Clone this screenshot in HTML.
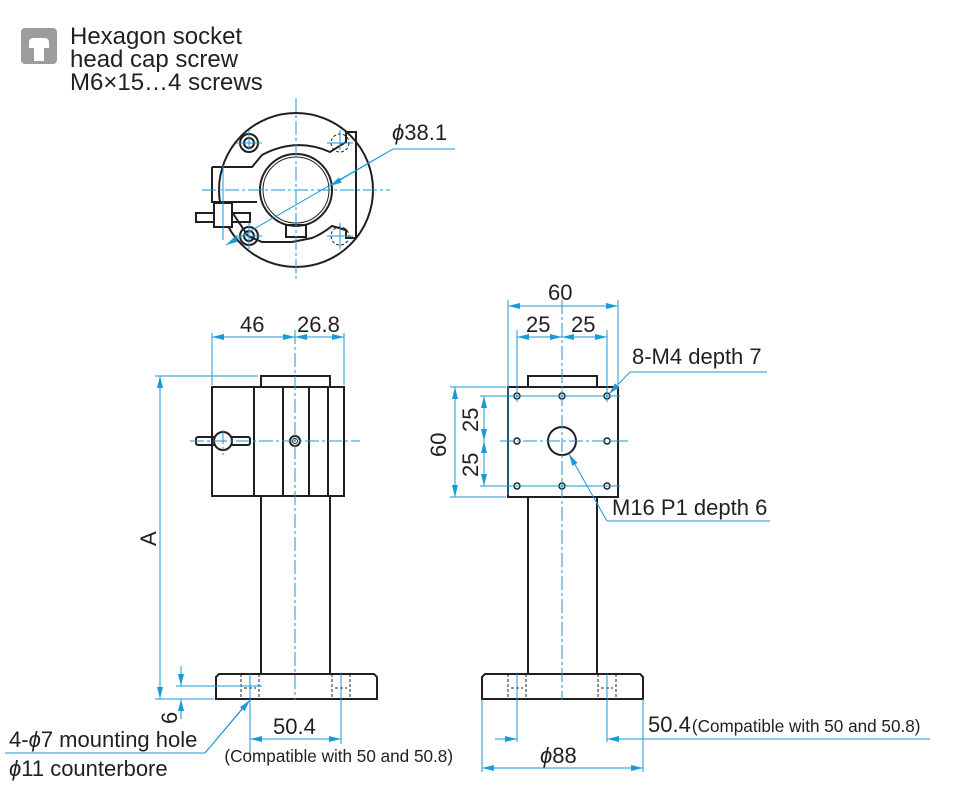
<!DOCTYPE html>
<html><head><meta charset="utf-8"><style>
html,body{margin:0;padding:0;background:#fff;}
svg{display:block;font-family:"Liberation Sans",sans-serif;}
</style></head><body>
<svg width="954" height="792" viewBox="0 0 954 792" xmlns="http://www.w3.org/2000/svg">
<defs>
<marker id="a" viewBox="0 0 12 6" refX="12" refY="3" markerWidth="12" markerHeight="6" orient="auto-start-reverse" markerUnits="userSpaceOnUse"><path d="M0,0 L12,3 L0,6 z" fill="#1a9ad6"/></marker>
</defs>
<!-- legend -->
<rect x="21" y="28" width="36" height="36" rx="4" fill="#9c9c9c"/>
<path d="M29,48 v-6 a4,4 0 0 1 4,-4 h12 a4,4 0 0 1 4,4 v6 z" fill="#fff"/>
<rect x="34" y="48" width="10" height="13" fill="#fff"/>
<g font-size="24" fill="#231f20">
<text x="70" y="44">Hexagon socket</text>
<text x="70" y="67">head cap screw</text>
<text x="70" y="90">M6×15…4 screws</text>
</g>

<g fill="none" stroke="#231f20" stroke-width="2">
<!-- top view -->
<circle cx="296" cy="190" r="77"/>
<circle cx="296" cy="190" r="36"/>
<circle cx="296" cy="190" r="33" stroke-width="1"/>
<path d="M212,167 h40 l10,-12 q34,-18 68,-3 l16,-10 v-10 h10 v106 h-10 v-8 l-14,-4 q-10,8 -20,12 l-20,4 h-30 l-14,-6 l-20,-30 M212,167 v35 h45"/>
<rect x="196" y="213" width="54" height="9"/>
<rect x="214" y="203" width="18" height="24" fill="#fff"/>
<rect x="286" y="225" width="20" height="12"/>
<circle cx="249" cy="143" r="9"/><circle cx="249" cy="143" r="5"/>
<circle cx="249" cy="236" r="9"/><circle cx="249" cy="236" r="5"/>
<!-- left side view -->
<rect x="261" y="376" width="69" height="11"/>
<rect x="212" y="387" width="132" height="109"/>
<line x1="254" y1="387" x2="254" y2="496"/>
<line x1="283" y1="387" x2="283" y2="496"/>
<line x1="309" y1="387" x2="309" y2="496"/>
<line x1="328" y1="387" x2="328" y2="496"/>
<rect x="196" y="437" width="54" height="8" rx="2"/>
<circle cx="223" cy="441" r="9" fill="#fff"/>
<circle cx="295" cy="441" r="5"/><circle cx="295" cy="441" r="2.5" stroke-width="1"/>
<line x1="261" y1="496" x2="261" y2="674"/>
<line x1="330" y1="496" x2="330" y2="674"/>
<path d="M219,674 h155 l3,3 v22 h-161 v-22 z"/>
<!-- right side view -->
<rect x="528" y="376" width="69" height="11"/>
<rect x="508" y="387" width="110" height="110"/>
<circle cx="562" cy="441" r="14"/>
<line x1="528" y1="497" x2="528" y2="674"/>
<line x1="597" y1="497" x2="597" y2="674"/>
<path d="M485,674 h155 l3,3 v22 h-161 v-22 z"/>
</g>
<g fill="none" stroke="#231f20" stroke-width="1" stroke-dasharray="3,2">
<path d="M241,674 v25 M259,674 v25 M244,688 h12"/>
<path d="M332,674 v25 M350,674 v25 M335,688 h12"/>
<path d="M508,674 v25 M526,674 v25 M511,688 h12"/>
<path d="M598,674 v25 M616,674 v25 M601,688 h12"/>
<circle cx="340" cy="143" r="9"/><circle cx="340" cy="236" r="9"/>
</g>
<g fill="#fff" stroke="#231f20" stroke-width="1.5">
<circle cx="517" cy="396" r="3"/><circle cx="562" cy="396" r="3"/><circle cx="607" cy="396" r="3"/>
<circle cx="517" cy="441" r="3"/><circle cx="607" cy="441" r="3"/>
<circle cx="517" cy="486" r="3"/><circle cx="562" cy="486" r="3"/><circle cx="607" cy="486" r="3"/>
</g>

<!-- blue lines -->
<g stroke="#1a9ad6" stroke-width="1" fill="none">
<path d="M296,98 V282 M202,190 H390" stroke-dasharray="14,3,3,3"/>
<path d="M223,165 V240 M249,130 V150 M236,143 H262 M236,236 H262 M249,223 V249 M340,130 V150 M327,143 H353 M340,223 V249 M327,236 H353"/>
<path d="M295,330 V700 M190,441 H360 M223,430 V455" stroke-dasharray="14,3,3,3"/>
<path d="M562,300 V700 M500,441 H628" stroke-dasharray="14,3,3,3"/>
<path d="M508,495 V300 M618,300 V384 M517,330 V402 M607,330 V402 M512,396 H620 M512,486 H620 M450,387 H506 M450,497 H506 M480,396 H512 M480,486 H512 M562,390 V402 M562,480 V492 M612,441 H620"/>
<!-- left dims -->
<path d="M212,385 V333 M344,385 V333"/>
<line x1="212" y1="337" x2="295" y2="337" marker-start="url(#a)" marker-end="url(#a)"/>
<line x1="295" y1="337" x2="344" y2="337" marker-start="url(#a)" marker-end="url(#a)"/>
<path d="M155,376 H258 M155,699 H214 M176,686 H262 M250,674 V760 M341,674 V744"/>
<line x1="160" y1="376" x2="160" y2="699" marker-start="url(#a)" marker-end="url(#a)"/>
<line x1="181" y1="666" x2="181" y2="686" marker-end="url(#a)"/>
<line x1="181" y1="719" x2="181" y2="699" marker-end="url(#a)"/>
<line x1="250" y1="739" x2="341" y2="739" marker-start="url(#a)" marker-end="url(#a)"/>
<path d="M5,753 H205 L247,703"/>
<line x1="205" y1="753" x2="250" y2="700" marker-end="url(#a)"/>
<!-- top dim -->
<path d="M455,149 H393"/>
<line x1="393" y1="149" x2="226" y2="245" marker-end="url(#a)"/>
<line x1="393" y1="149" x2="330" y2="186" marker-end="url(#a)"/>
<!-- right dims -->
<line x1="508" y1="306" x2="618" y2="306" marker-start="url(#a)" marker-end="url(#a)"/>
<line x1="517" y1="337" x2="562" y2="337" marker-start="url(#a)" marker-end="url(#a)"/>
<line x1="562" y1="337" x2="607" y2="337" marker-start="url(#a)" marker-end="url(#a)"/>
<line x1="455" y1="387" x2="455" y2="497" marker-start="url(#a)" marker-end="url(#a)"/>
<line x1="484" y1="396" x2="484" y2="441" marker-start="url(#a)" marker-end="url(#a)"/>
<line x1="484" y1="441" x2="484" y2="486" marker-start="url(#a)" marker-end="url(#a)"/>
<path d="M767,372 H630"/>
<line x1="630" y1="372" x2="609" y2="394" marker-end="url(#a)"/>
<path d="M770,521 H607"/>
<line x1="607" y1="521" x2="569" y2="454" marker-end="url(#a)"/>
<path d="M517,674 V742 M607,674 V742 M482,699 V772 M643,699 V772"/>
<line x1="495" y1="739" x2="517" y2="739" marker-end="url(#a)"/>
<line x1="930" y1="739" x2="607" y2="739" marker-end="url(#a)"/>
<line x1="482" y1="768" x2="643" y2="768" marker-start="url(#a)" marker-end="url(#a)"/>
</g>

<!-- dimension texts -->
<g fill="#231f20" font-size="22">
<text x="392" y="140"><tspan font-style="italic">ϕ</tspan>38.1</text>
<text x="240" y="332">46</text>
<text x="297" y="332">26.8</text>
<text x="548" y="300">60</text>
<text x="526" y="332">25</text>
<text x="571" y="332">25</text>
<text x="632" y="364">8-M4 depth 7</text>
<text x="612" y="515">M16 P1 depth 6</text>
<text x="273" y="734">50.4</text>
<text x="9" y="747">4-<tspan font-style="italic">ϕ</tspan>7 mounting hole</text>
<text x="9" y="776"><tspan font-style="italic">ϕ</tspan>11 counterbore</text>
<text x="648" y="732">50.4</text>
<text x="540" y="763"><tspan font-style="italic">ϕ</tspan>88</text>
<text transform="translate(156,546) rotate(-90)">A</text>
<text transform="translate(446,457) rotate(-90)">60</text>
<text transform="translate(478,432) rotate(-90)">25</text>
<text transform="translate(478,477) rotate(-90)">25</text>
<text transform="translate(177,724) rotate(-90)">6</text>
</g>
<g fill="#231f20" font-size="17.5" transform="scale(0.98,1)">
<text x="229" y="762">(Compatible with 50 and 50.8)</text>
<text x="706" y="732">(Compatible with 50 and 50.8)</text>
</g>
</svg>
</body></html>
